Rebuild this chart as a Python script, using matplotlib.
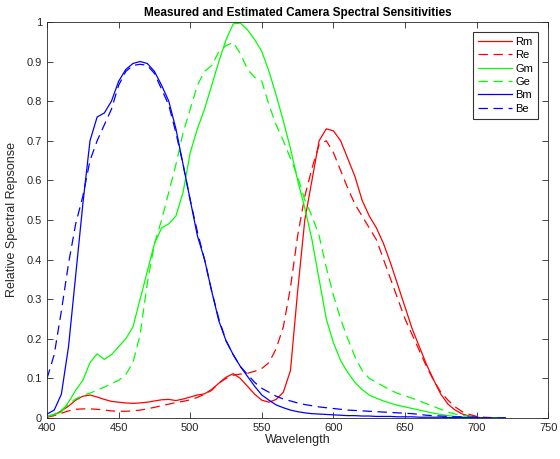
import matplotlib
matplotlib.use("Agg")
import matplotlib.pyplot as plt

plt.rcParams['font.family'] = ['Liberation Sans', 'DejaVu Sans']

wavelength = list(range(400, 725, 5))

Rm = [0.003, 0.008, 0.018, 0.03, 0.045, 0.055, 0.058, 0.053, 0.047, 0.042,
      0.04, 0.038, 0.037, 0.038, 0.04, 0.043, 0.046, 0.047, 0.044, 0.048,
      0.053, 0.058, 0.061, 0.072, 0.088, 0.103, 0.112, 0.1, 0.08, 0.06,
      0.045, 0.04, 0.047, 0.065, 0.12, 0.32, 0.50, 0.60, 0.70, 0.73,
      0.725, 0.70, 0.655, 0.61, 0.55, 0.51, 0.48, 0.44, 0.39, 0.335,
      0.28, 0.225, 0.18, 0.135, 0.096, 0.06, 0.035, 0.02, 0.01, 0.005,
      0.002, 0.0, 0.0, 0.0, 0.0]
Re = [0.002, 0.006, 0.012, 0.018, 0.022, 0.023, 0.023, 0.022, 0.02, 0.018,
      0.017, 0.017, 0.018, 0.02, 0.023, 0.027, 0.031, 0.035, 0.039, 0.042,
      0.046, 0.052, 0.06, 0.07, 0.088, 0.1, 0.108, 0.111, 0.113, 0.118,
      0.125, 0.14, 0.175, 0.23, 0.33, 0.46, 0.56, 0.63, 0.69, 0.70,
      0.67, 0.625, 0.58, 0.54, 0.51, 0.48, 0.45, 0.40, 0.35, 0.30,
      0.25, 0.21, 0.17, 0.13, 0.095, 0.065, 0.045, 0.028, 0.016, 0.009,
      0.004, 0.002, 0.001, 0.0, 0.0]
Gm = [0.005, 0.008, 0.015, 0.04, 0.07, 0.095, 0.14, 0.162, 0.148, 0.16,
      0.18, 0.20, 0.23, 0.30, 0.37, 0.44, 0.48, 0.49, 0.51, 0.57,
      0.67, 0.73, 0.78, 0.84, 0.90, 0.955, 0.995, 0.997, 0.98, 0.955,
      0.925, 0.875, 0.815, 0.75, 0.68, 0.60, 0.53, 0.45, 0.35, 0.25,
      0.19, 0.145, 0.115, 0.09, 0.072, 0.058, 0.05, 0.043, 0.037, 0.032,
      0.028, 0.024, 0.02, 0.016, 0.012, 0.009, 0.006, 0.004, 0.003, 0.002,
      0.001, 0.0, 0.0, 0.0, 0.0]
Ge = [0.003, 0.01, 0.02, 0.035, 0.048, 0.057, 0.063, 0.07, 0.078, 0.087,
      0.095, 0.11, 0.14, 0.21, 0.34, 0.44, 0.50, 0.57, 0.64, 0.72,
      0.78, 0.84, 0.875, 0.89, 0.925, 0.94, 0.948, 0.92, 0.88, 0.86,
      0.85, 0.79, 0.74, 0.70, 0.655, 0.61, 0.55, 0.51, 0.46, 0.38,
      0.31, 0.25, 0.2, 0.155, 0.12, 0.1, 0.09, 0.08, 0.07, 0.062,
      0.056, 0.05, 0.043, 0.036, 0.029, 0.022, 0.015, 0.01, 0.007, 0.004,
      0.002, 0.0, 0.0, 0.0, 0.0]
Bm = [0.01, 0.02, 0.06, 0.18, 0.36, 0.54, 0.70, 0.76, 0.77, 0.80,
      0.85, 0.88, 0.895, 0.90, 0.895, 0.875, 0.84, 0.80, 0.73, 0.64,
      0.55, 0.46, 0.40, 0.32, 0.245, 0.195, 0.16, 0.13, 0.105, 0.08,
      0.058, 0.045, 0.033, 0.026, 0.02, 0.016, 0.013, 0.011, 0.01, 0.009,
      0.008, 0.007, 0.006, 0.006, 0.005, 0.005, 0.004, 0.004, 0.004, 0.003,
      0.003, 0.003, 0.002, 0.002, 0.002, 0.002, 0.001, 0.001, 0.001, 0.001,
      0.001, 0.0, 0.0, 0.0, 0.0]
Be = [0.10, 0.16, 0.27, 0.39, 0.49, 0.56, 0.65, 0.70, 0.74, 0.78,
      0.84, 0.875, 0.89, 0.893, 0.89, 0.87, 0.83, 0.79, 0.72, 0.64,
      0.55, 0.47, 0.40, 0.32, 0.25, 0.195, 0.16, 0.13, 0.11, 0.09,
      0.075, 0.065, 0.055, 0.048, 0.043, 0.038, 0.034, 0.031, 0.028, 0.026,
      0.024, 0.022, 0.02, 0.019, 0.018, 0.017, 0.016, 0.015, 0.014, 0.013,
      0.012, 0.011, 0.009, 0.007, 0.006, 0.005, 0.004, 0.003, 0.003, 0.002,
      0.002, 0.001, 0.001, 0.0, 0.0]

series = [("Rm", Rm, "#ff0000", "-"), ("Re", Re, "#ff0000", "--"),
          ("Gm", Gm, "#00ff00", "-"), ("Ge", Ge, "#00ff00", "--"),
          ("Bm", Bm, "#0000ff", "-"), ("Be", Be, "#0000ff", "--")]

fig = plt.figure(figsize=(5.6, 4.59), dpi=100)
ax = fig.add_axes([0.084, 0.0893, 0.895, 0.863])
for name, vals, col, ls in series:
    line, = ax.plot(wavelength, vals, color=col, linestyle=ls, linewidth=0.9, label=name)
    if ls == "--":
        line.set_dashes((7.5, 4.5))

ax.set_xlim(400, 750)
ax.set_ylim(0, 1)
ax.set_xticks(range(400, 751, 50))
ax.set_yticks([i / 10 for i in range(11)])
ax.set_yticklabels(["0"] + [f"0.{i}" for i in range(1, 10)] + ["1"])
ax.tick_params(direction="in", top=True, right=True, labelsize=8, colors="#262626", length=4, width=0.6)
for s in ax.spines.values():
    s.set_color("#262626")
    s.set_linewidth(0.6)
ax.set_xlabel("Wavelength", fontsize=9, color="#262626", labelpad=1)
ax.set_ylabel("Relative Spectral Repsonse", fontsize=9, color="#262626", labelpad=6)
ax.set_title("Measured and Estimated Camera Spectral Sensitivities", fontsize=8.5, fontweight="bold", pad=4)
leg = ax.legend(loc="upper right", fontsize=8, frameon=True, fancybox=False, edgecolor="black",
                borderaxespad=0.9, handlelength=3.1, labelspacing=0.3, handletextpad=0.3,
                borderpad=0.45)
leg.get_frame().set_linewidth(0.8)
fig.savefig("out.png", dpi=100)
